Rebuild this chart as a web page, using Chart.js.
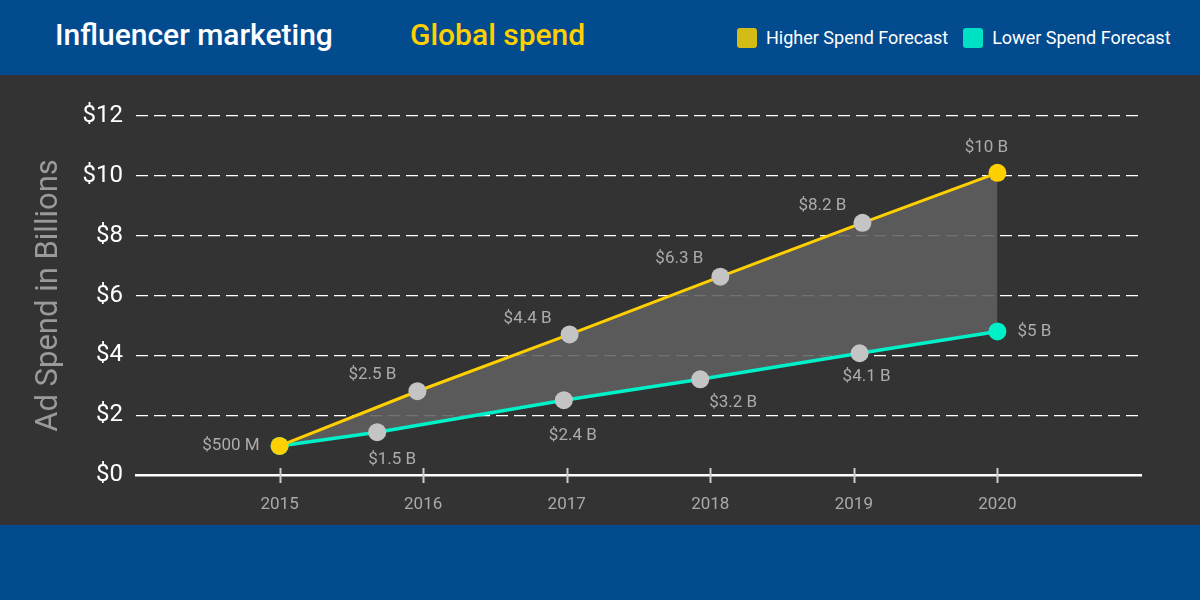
<!DOCTYPE html>
<html>
<head>
<meta charset="utf-8">
<script src="https://cdn.jsdelivr.net/npm/chart.js@4.4.1/dist/chart.umd.min.js"></script>
<style>
  body { margin: 0; width: 1200px; height: 600px; overflow: hidden; background: #034b8f; font-family: Roboto, sans-serif; }
  #header { position: relative; height: 75px; background: #034b8f; }
  #title { position: absolute; left: 55px; top: 17px; font-size: 30px; font-weight: 500; color: #fff; }
  #subtitle { position: absolute; left: 410px; top: 17px; font-size: 30px; font-weight: 500; color: #ffd000; }
  #legend { position: absolute; left: 737px; top: 28px; display: flex; align-items: center; }
  .item { display: flex; align-items: center; font-size: 18px; line-height: 20px; color: #fff; }
  .box { width: 20px; height: 20px; border-radius: 3px; margin-right: 9px; }
  #panel { height: 450px; background: #333333; }
  #footer { height: 75px; background: #034b8f; }
</style>
</head>
<body>
<div id="header">
  <div id="title">Influencer marketing</div>
  <div id="subtitle">Global spend</div>
  <div id="legend"></div>
</div>
<div id="panel"><canvas id="myChart" width="1200" height="450"></canvas></div>
<div id="footer"></div>
<script>
const seriesNames = ['Higher Spend Forecast', 'Lower Spend Forecast'];
const tickYears = [2015, 2016, 2017, 2018, 2019, 2020];

const higherX = [2015, 2015.96, 2017.02, 2018.07, 2019.06, 2020];
const higherY = [0.97, 2.8, 4.7, 6.63, 8.43, 10.1];
const higherLabels = ['$500 M', '$2.5 B', '$4.4 B', '$6.3 B', '$8.2 B', '$10 B'];

const lowerX = [2015, 2015.68, 2016.98, 2017.93, 2019.04, 2020];
const lowerY = [0.97, 1.43, 2.5, 3.2, 4.07, 4.8];
const lowerLabels = ['', '$1.5 B', '$2.4 B', '$3.2 B', '$4.1 B', '$5 B'];

const yTicks = [0, 2, 4, 6, 8, 10, 12];

// label offsets from the point centre, [dx, dy, align]
const labelPlacement = [
    [[-20, 0, 'right'], [-45, -16, 'center'], [-42, -16, 'center'], [-41, -18, 'center'], [-40, -17, 'center'], [-11, -25, 'center']],
    [[0, 0, 'center'], [15, 28, 'center'], [9, 36, 'center'], [33, 23, 'center'], [7, 24, 'center'], [20, 0, 'left']]
];

const lineColors = ['#ffd000', '#00f0c8'];
const legendColors = ['#d4bc16', '#00e0c4'];
const innerPoint = '#c4c4c4';

const legend = document.getElementById('legend');
seriesNames.forEach((name, i) => {
    const item = document.createElement('div');
    item.className = 'item';
    item.style.marginRight = i === 0 ? '15px' : '0';
    const box = document.createElement('div');
    box.className = 'box';
    box.style.backgroundColor = legendColors[i];
    item.appendChild(box);
    item.appendChild(document.createTextNode(name));
    legend.appendChild(item);
});

function toPoints(xs, ys) {
    return xs.map((x, i) => ({ x: x, y: ys[i] }));
}

function pointColors(n, endColor) {
    return Array.from({ length: n }, (_, i) => (i === 0 || i === n - 1) ? endColor : innerPoint);
}

const tickMarks = {
    id: 'tickMarks',
    afterDraw(chart) {
        const ctx = chart.ctx;
        const xs = chart.scales.x;
        const bottom = chart.chartArea.bottom;
        ctx.save();
        ctx.strokeStyle = '#cccccc';
        ctx.lineWidth = 2;
        tickYears.forEach(year => {
            const px = Math.round(xs.getPixelForValue(year)) + 0.5;
            ctx.beginPath();
            ctx.moveTo(px, bottom - 7);
            ctx.lineTo(px, bottom + 8);
            ctx.stroke();
        });
        ctx.restore();
    }
};

const pointLabels = {
    id: 'pointLabels',
    afterDatasetsDraw(chart) {
        const ctx = chart.ctx;
        const allLabels = [higherLabels, lowerLabels];
        ctx.save();
        ctx.font = '17px Roboto';
        ctx.fillStyle = '#acacac';
        ctx.textBaseline = 'middle';
        allLabels.forEach((labels, d) => {
            const meta = chart.getDatasetMeta(d);
            meta.data.forEach((pt, i) => {
                if (!labels[i]) return;
                const p = labelPlacement[d][i];
                ctx.textAlign = p[2];
                ctx.fillText(labels[i], pt.x + p[0], pt.y + p[1]);
            });
        });
        ctx.restore();
    }
};

const ctx = document.getElementById('myChart').getContext('2d');
const myChart = new Chart(ctx, {
    type: 'line',
    data: {
        datasets: [{
            label: seriesNames[0],
            data: toPoints(higherX, higherY),
            borderColor: lineColors[0],
            borderWidth: 3,
            pointRadius: 9,
            pointBorderWidth: 0,
            pointBackgroundColor: pointColors(higherX.length, lineColors[0]),
            fill: false,
            tension: 0
        }, {
            label: seriesNames[1],
            data: toPoints(lowerX, lowerY),
            borderColor: lineColors[1],
            borderWidth: 3.5,
            pointRadius: 9,
            pointBorderWidth: 0,
            pointBackgroundColor: pointColors(lowerX.length, lineColors[1]),
            fill: '-1',
            backgroundColor: 'rgba(96, 96, 96, 0.88)',
            tension: 0
        }]
    },
    options: {
        responsive: false,
        maintainAspectRatio: false,
        animation: false,
        layout: { padding: { top: 41, right: 59, left: 0, bottom: 0 } },
        plugins: {
            legend: { display: false },
            tooltip: { enabled: false }
        },
        scales: {
            x: {
                type: 'linear',
                min: 2014,
                max: 2021,
                afterBuildTicks: scale => { scale.ticks = tickYears.map(v => ({ value: v })); },
                afterFit: scale => { scale.height = 50; },
                grid: { display: false },
                border: { display: true, color: '#ffffff', width: 2.5 },
                ticks: {
                    color: '#aaaaaa',
                    font: { family: 'Roboto', size: 17 },
                    padding: 12,
                    callback: v => String(v)
                }
            },
            y: {
                min: 0,
                max: 12,
                afterBuildTicks: scale => { scale.ticks = yTicks.map(v => ({ value: v })); },
                afterFit: scale => { scale.width = 136; },
                grid: {
                    color: '#ffffff',
                    lineWidth: 1.3,
                    drawTicks: false
                },
                border: { display: false, dash: [12, 6] },
                ticks: {
                    color: '#ffffff',
                    font: { family: 'Roboto', size: 24 },
                    padding: 13,
                    callback: v => '$' + v
                },
                title: {
                    display: true,
                    text: 'Ad Spend in Billions',
                    color: '#9a9a9a',
                    font: { family: 'Roboto', size: 31 },
                    padding: { top: 31, bottom: 0 }
                }
            }
        }
    },
    plugins: [tickMarks, pointLabels]
});
</script>
</body>
</html>
